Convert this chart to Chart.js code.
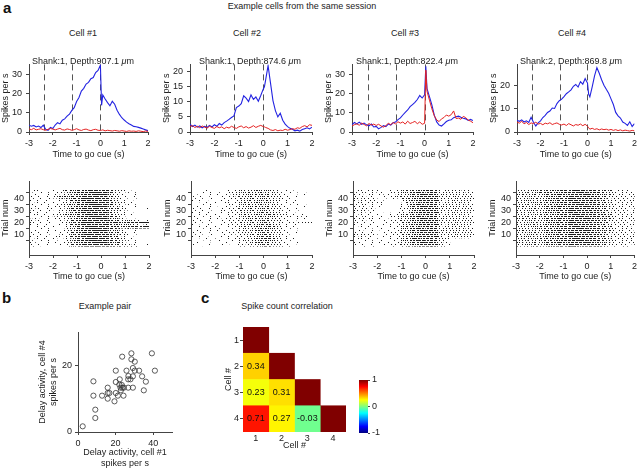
<!DOCTYPE html>
<html>
<head>
<meta charset="utf-8">
<script src="https://cdn.jsdelivr.net/npm/chart.js@4.4.1/dist/chart.umd.min.js"></script>
<style>
  body { margin: 0; background: #fff; }
  #fig { position: relative; width: 640px; height: 470px; overflow: hidden; font-family: "Liberation Sans", Arial, sans-serif; color: #222; }
  #fig canvas { position: absolute; }
  .txt { position: absolute; font-size: 9px; line-height: 11px; white-space: nowrap; transform: translateX(-50%); }
  .lab { position: absolute; font-size: 15px; line-height: 15px; font-weight: bold; color: #111; }
</style>
</head>
<body>
<div id="fig">
  <canvas id="psth1" width="154" height="105" style="left:0;top:55px"></canvas>
  <canvas id="psth2" width="157" height="105" style="left:161px;top:55px"></canvas>
  <canvas id="psth3" width="156" height="105" style="left:323px;top:55px"></canvas>
  <canvas id="psth4" width="152" height="105" style="left:488px;top:55px"></canvas>
  <canvas id="ras1" width="155" height="108" style="left:0;top:174px"></canvas>
  <canvas id="ras2" width="156" height="108" style="left:162px;top:174px"></canvas>
  <canvas id="ras3" width="156" height="108" style="left:324px;top:174px"></canvas>
  <canvas id="ras4" width="153" height="108" style="left:487px;top:174px"></canvas>
  <canvas id="pair" width="143" height="149" style="left:37px;top:320px"></canvas>
  <canvas id="corr" width="138" height="136" style="left:212px;top:315px"></canvas>
  <canvas id="cbar" width="35" height="70" style="left:352px;top:372px"></canvas>

  <div class="lab" style="left:3px;top:0">a</div>
  <div class="txt" style="left:302px;top:1px">Example cells from the same session</div>
  <div class="txt" style="left:83px;top:28px">Cell #1</div>
  <div class="txt" style="left:247px;top:28px">Cell #2</div>
  <div class="txt" style="left:405px;top:28px">Cell #3</div>
  <div class="txt" style="left:572px;top:28px">Cell #4</div>
  <div class="txt" style="left:83px;top:56px">Shank:1, Depth:907.1 <i>μ</i>m</div>
  <div class="txt" style="left:250px;top:56px">Shank:1, Depth:874.6 <i>μ</i>m</div>
  <div class="txt" style="left:407px;top:56px">Shank:1, Depth:822.4 <i>μ</i>m</div>
  <div class="txt" style="left:571px;top:56px">Shank:2, Depth:869.8 <i>μ</i>m</div>
  <div class="lab" style="left:2px;top:290px">b</div>
  <div class="txt" style="left:105px;top:301px">Example pair</div>
  <div class="lab" style="left:201px;top:290px">c</div>
  <div class="txt" style="left:287px;top:301px">Spike count correlation</div>
</div>
<script>
// time grid of the PSTHs (s, relative to go cue)
const times = [-3, -2.9, -2.8, -2.7, -2.6, -2.5, -2.4, -2.3, -2.2, -2.1,
  -2, -1.9, -1.8, -1.7, -1.6, -1.5, -1.4, -1.3, -1.2, -1.1,
  -1, -0.9, -0.8, -0.7, -0.6, -0.5, -0.4, -0.3, -0.2, -0.1,
  0, 0.05, 0.1, 0.2, 0.3, 0.4, 0.5, 0.6, 0.7, 0.8,
  0.9, 1, 1.1, 1.2, 1.3, 1.4, 1.5, 1.6, 1.7, 1.8, 1.9, 2];
const timeTicks = [-3, -2, -1, 0, 1, 2];
const events = [-2.35, -1.18, 0];

// spikes per s, lick-right trials (blue) and lick-left trials (red)
const cell1Blue = [3.5, 3.0, 3.4, 2.6, 3.1, 2.3, 3.5, 1.4, 0.9, 2.4,
  1.8, 3.6, 4.8, 4.2, 6.1, 6.8, 8.2, 9.3, 11.2, 12.6,
  15.8, 17.9, 21.2, 22.6, 24.8, 25.7, 27.6, 28.2, 30.8, 31.9,
  34.6, 13.8, 19.2, 17.1, 15.2, 13.6, 15.9, 14.4, 11.3, 9.1,
  7.4, 6.2, 5.1, 4.3, 3.6, 2.9, 2.7, 2.4, 2.0, 1.6, 1.1, 0.7];
const cell1Red = [1.6, 1.2, 1.9, 1.1, 1.4, 1.7, 1.2, 0.9, 1.4, 1.8,
  1.5, 1.1, 1.5, 1.9, 1.2, 1.0, 1.6, 1.3, 0.9, 1.2,
  1.7, 1.1, 0.8, 1.3, 1.5, 1.0, 0.7, 1.2, 1.4, 0.9,
  0.8, 0.9, 1.1, 0.6, 0.9, 0.7, 0.5, 0.8, 0.6, 0.4,
  0.7, 0.5, 0.3, 0.6, 0.4, 0.5, 0.3, 0.6, 0.4, 0.2, 0.5, 0.3];
const cell2Blue = [2.6, 1.8, 2.3, 1.6, 2.0, 1.4, 1.9, 1.5, 2.2, 1.7,
  2.4, 1.9, 2.8, 2.3, 3.1, 3.6, 4.2, 4.8, 5.3, 8.1,
  8.6, 9.4, 12.0, 11.2, 10.1, 12.3, 10.8, 11.6, 10.2, 12.1,
  14.2, 15.0, 17.3, 22.0, 16.2, 10.4, 7.1, 5.0, 6.2, 3.9,
  2.6, 1.8, 1.2, 0.9, 0.4, 0.6, 0.3, 0.8, 1.1, 1.4, 1.0, 1.6];
const cell2Red = [1.8, 2.1, 1.5, 1.9, 1.4, 2.0, 1.6, 1.3, 1.9, 1.5,
  1.2, 1.8, 1.4, 1.7, 1.1, 1.6, 1.3, 1.9, 1.5, 1.2,
  1.7, 2.0, 1.4, 1.8, 1.3, 1.6, 2.1, 1.5, 1.9, 2.2,
  1.8, 1.7, 1.5, 1.2, 0.7, 0.5, 0.8, 0.4, 0.6, 0.5,
  0.9, 0.6, 0.8, 1.1, 0.9, 1.4, 1.2, 1.8, 2.1, 1.7, 2.4, 2.2];
const cell3Blue = [3.8, 4.9, 4.2, 5.1, 4.0, 4.6, 3.7, 3.2, 4.1, 2.6,
  2.9, 1.6, 2.4, 3.3, 2.8, 4.1, 3.6, 4.8, 5.2, 6.4,
  7.3, 8.8, 10.2, 11.4, 13.1, 14.2, 15.3, 16.8, 18.9, 17.6,
  19.2, 34.0, 22.5, 18.3, 14.1, 8.7, 5.2, 3.6, 3.1, 4.2,
  5.4, 6.1, 6.3, 7.4, 7.9, 8.2, 7.6, 7.1, 6.8, 6.0, 6.5, 5.9];
const cell3Red = [3.1, 3.8, 4.2, 3.5, 4.6, 3.9, 3.2, 4.4, 3.6, 4.1,
  3.4, 4.0, 3.1, 2.5, 3.3, 4.5, 3.8, 4.9, 4.2, 5.3,
  4.6, 5.2, 4.1, 5.6, 4.4, 4.9, 5.5, 4.3, 5.2, 4.0,
  4.5, 32.0, 21.0, 16.5, 12.0, 8.4, 6.2, 5.4, 6.8, 7.5,
  8.8, 8.2, 9.0, 10.9, 7.0, 7.2, 6.6, 8.1, 7.4, 6.2, 5.6, 4.8];
const cell4Blue = [5.0, 4.6, 5.2, 4.3, 4.8, 4.1, 6.3, 4.2, 2.6, 3.9,
  4.8, 6.2, 7.1, 8.4, 9.0, 10.3, 10.1, 12.2, 13.4, 14.1,
  15.2, 16.4, 17.2, 18.1, 19.6, 20.4, 19.3, 21.6, 20.5, 22.9,
  21.0, 16.2, 15.1, 19.4, 24.1, 27.6, 25.2, 22.4, 20.1, 18.3,
  16.6, 14.2, 11.8, 8.4, 6.9, 6.0, 4.3, 3.7, 2.8, 4.4, 2.4, 3.6];
const cell4Red = [4.3, 3.8, 4.6, 3.5, 4.1, 3.2, 3.9, 3.6, 4.2, 3.4,
  3.7, 3.1, 3.8, 3.5, 4.0, 3.2, 3.6, 3.9, 3.3, 3.0,
  3.4, 2.8, 3.6, 3.1, 2.6, 3.2, 2.9, 3.4, 2.7, 3.3,
  2.5, 1.8, 1.2, 1.6, 1.1, 1.4, 0.9, 1.3, 1.0, 1.2,
  0.8, 1.1, 0.7, 1.0, 0.6, 0.9, 0.5, 0.8, 0.6, 0.4, 0.7, 0.5];

// rasters: one string per trial (top trial first), one digit per 0.25 s bin = spike density
const binEdges = [-3, -2.75, -2.5, -2.25, -2, -1.75, -1.5, -1.25, -1, -0.75, -0.5,
  -0.25, 0, 0.25, 0.5, 0.75, 1, 1.25, 1.5, 1.75, 2];
const trialTicks = [10, 20, 30, 40];
const raster1 = [
  "21011246778885321000", "10101236788994210000", "11010134678995221100", "01101125678884220000",
  "10010236789995310100", "11003566788884221100", "01011345789994210000", "10100124678895320000",
  "21011235788884211000", "10101124678995321100", "01010235789884210000", "21101345788995321000",
  "10011234678894320100", "01100124789995310000", "11010135678884210000", "30120246789995431001",
  "11010125678894320000", "01101234678884210000", "10010134789995320000", "21011346788884321100",
  "11103355788894310000", "10010124678995420000", "01101235789884310000", "11010124678895421000",
  "32101235789996532100", "10110124678895544321", "21010134789997778889", "10101125678896654321",
  "01010124678895432100", "10101135789996543211", "11010124678996667778", "01100124678895321000",
  "10010135789995421100", "01101124678894320000", "10010114678995431000", "11011225788895421100",
  "01100114679996431000", "10101114678895320000", "21012236789895421000", "10010124678995431100",
  "01101115789896532100", "11010124678895420000", "20110126789996531100", "10101114678895421000",
  "01010125789996532100", "10100014678996543211"];
const raster2 = [
  "10100112334543210100", "01010123343432101000", "00101012434543211010", "10010113344443210000",
  "01001122433543220100", "10100101343443311000", "00010122344542210010", "11001012433443201000",
  "01010112344443210100", "10001211434543211000", "00110102343442210000", "10010121344553210100",
  "01100012433443201010", "10010112344443210000", "00101122343543211000", "11010101434442210100",
  "01001212343443201000", "10100112434543210010", "01010021334442211000", "11001112343443210100",
  "10110122444554321110", "21011112344554322211", "11010122343443211021", "01101112434443210100",
  "10010211344543211000", "01001012343543210010", "10101112434543212232", "00110122344553210100",
  "10010101234563210000", "01001112344564311000", "00100112234563210100", "10010101234564210000",
  "01001012334663211000", "00010111234653210000", "10100101234564210100", "01001012234664311000",
  "00010101224664210000", "10001011234563210000", "01000112234664211000", "00100101234674311000",
  "10010011224663210000", "00001012234664210000", "01000101223563211000", "00100011234664210100",
  "10010101224564210000", "00100001223454311000"];
const raster3 = [
  "21121112456787223232", "12011123457787232323", "21102112356787223322", "11210012456887322332",
  "22111013346787232232", "12101122456787223232", "21210011457787232323", "23121000356787223322",
  "12210000256887322332", "21120000146787232232", "22112000146787223232", "12210000147787232323",
  "21101000156787223322", "12120000256887322332", "21210001246787232232", "11201000146787223232",
  "23110000137787232323", "12100000146787223322", "21110001256887322332", "12101011346787232232",
  "11210112456787223232", "21101123457787232323", "12110012356787223322", "21211011456887322332",
  "11010112346787232232", "21101012456787223232", "12010101457787232323", "11101012356787223322",
  "21010112456887322332", "10101101346787232232", "01010012456787223232", "11001011457787232323",
  "10100112356787223322", "01010101456887322332", "12101012346787232232", "21110111456787223232",
  "34220112457787232323", "23110101356787223322", "12101012456887322332", "21010112456787320000",
  "11100011357787310000", "10101012456887210000", "01010101457787200000", "21011012356887221000",
  "10100112456787310000", "01010011356787210000"];
const raster4 = [
  "33434567788876542211", "32345667787887532121", "24334567788776542212", "33243567787887432121",
  "32334566788877532212", "23424567787786542121", "33343567788877532211", "24234566787887432122",
  "33324567788776542211", "32433567787887532121", "23334566788877432212", "33243567787786542121",
  "34333567788877532211", "23424566787887432122", "32334567788776542211", "33243567787887532121",
  "24334566788877432212", "33424567787786542121", "32334567788877542211", "23343566787887532122",
  "33234567788876642221", "32433567787887653221", "24334566788877642212", "33243567787786642121",
  "32334567788877542211", "23424566787887532122", "33334567788776542211", "24243567787887432121",
  "33334566788877532212", "32424567787786442121", "23334567788877532211", "33243566787887432122",
  "32334567788776542211", "24433567787887532121", "33324566788877432212", "23243567787786542121",
  "32334567788877532211", "33424566787887432122", "24334567788776542211", "33243567787887532121",
  "32334566788877432212", "23424567787786542121", "33334567788877532211", "32243566787887432122",
  "24334567788776542211", "33343567787887532121"];

// panel b: delay activity of cell #1 (x) vs cell #4 (y), one point per trial
const pairX = [2.5, 9.2, 9.2, 8.2, 8.2, 12.8, 15.8, 15.8, 15.8, 16.7, 19.4, 20.1, 20.1, 20.1,
  21.2, 22.0, 22.2, 22.6, 23.5, 23.6, 24.2, 24.4, 22.8, 23.3, 25.8, 26.7, 26.7, 26.8,
  27.9, 28.4, 28.4, 29.2, 29.2, 29.2, 30.2, 30.2, 32.5, 34.1, 35.0, 36.1, 39.3, 40.9];
const pairY = [1.7, 4.2, 6.7, 10.9, 15.2, 10.9, 13.3, 11.7, 10.0, 11.7, 9.2, 18.4, 15.0, 11.7,
  10.9, 14.2, 15.8, 13.3, 22.6, 13.3, 10.9, 13.3, 12.5, 14.1, 18.4, 13.3, 15.8, 16.8,
  15.8, 23.6, 21.8, 13.3, 19.2, 16.7, 21.1, 18.4, 18.4, 16.7, 12.5, 15.1, 23.6, 18.4];

// panel c: spike count correlation (lower triangle)
const cellLabels = ['1', '2', '3', '4'];
const corr = [
  [1],
  [0.34, 1],
  [0.23, 0.31, 1],
  [0.71, 0.27, -0.03, 1]];

const BLUE = 'rgb(35,35,225)';
const RED = 'rgb(228,35,35)';
const AXIS = '#444';

Chart.defaults.font.family = "'Liberation Sans', Arial, sans-serif";
Chart.defaults.font.size = 9;
Chart.defaults.color = '#222';

function jet(v) {
  const t = (v + 1) / 2;
  const f = o => Math.round(255 * Math.max(0, Math.min(1, 1.5 - Math.abs(4 * t - o))));
  return 'rgb(' + f(3) + ',' + f(2) + ',' + f(1) + ')';
}

// dotted fill texture for raster bins: a pixel is inked when its rank is below
// the density level; only every other texture row is inked so each trial reads as one dotted line
const dotRank = [17, 3, 25, 9, 0, 21, 12, 28, 6, 15, 23, 1, 19, 10, 26, 4, 14, 7, 27, 20, 2, 11, 24, 16, 5, 22, 13, 8, 18];
const rowShift = [0, 11, 3, 17, 25, 8, 21, 5, 14, 27, 2, 19];
function dotPattern(d) {
  const w = dotRank.length;
  const c = document.createElement('canvas');
  c.width = w; c.height = rowShift.length;
  const g = c.getContext('2d');
  g.fillStyle = '#1e1e1e';
  const on = Math.round(d * 0.1 * w);
  rowShift.forEach((s, r) => {
    if (r % 2) return;
    for (let i = 0; i < w; i++) if (dotRank[(i + s) % w] < on) g.fillRect(i, r, 1, 1);
  });
  return g.createPattern(c, 'repeat');
}
const patterns = [0, 1, 2, 3, 4, 5, 6, 7, 8, 9].map(dotPattern);

function setTicks(list) {
  return s => { s.ticks = list.map(v => ({ value: v })); };
}

function axis(opts) {
  return Object.assign({
    grid: { drawOnChartArea: false, tickLength: 3, color: AXIS },
    border: { color: AXIS },
    ticks: { padding: 3, maxRotation: 0, autoSkip: false }
  }, opts);
}

const baseOpts = {
  responsive: false, animation: false, devicePixelRatio: 1,
  plugins: { legend: { display: false }, tooltip: { enabled: false } }
};

const eventLines = {
  id: 'eventLines',
  beforeDatasetsDraw(chart) {
    const { ctx, chartArea: a, scales: { x } } = chart;
    ctx.save();
    ctx.strokeStyle = '#555';
    ctx.lineWidth = 1;
    ctx.setLineDash([6, 4]);
    events.forEach(t => {
      const px = Math.round(x.getPixelForValue(t)) + 0.5;
      ctx.beginPath();
      ctx.moveTo(px, a.top);
      ctx.lineTo(px, a.bottom);
      ctx.stroke();
    });
    ctx.restore();
  }
};

function psth(id, blue, red, yMax, yTicks, padRight) {
  new Chart(document.getElementById(id), {
    type: 'line',
    data: {
      datasets: [
        { data: times.map((t, i) => ({ x: t, y: red[i] })), borderColor: RED, borderWidth: 1, pointRadius: 0 },
        { data: times.map((t, i) => ({ x: t, y: blue[i] })), borderColor: BLUE, borderWidth: 1.1, pointRadius: 0 }
      ]
    },
    options: Object.assign({}, baseOpts, {
      layout: { padding: { top: 5, right: padRight } },
      scales: {
        x: axis({ type: 'linear', min: -3, max: 2, afterBuildTicks: setTicks(timeTicks),
          afterFit: s => { s.height = 28; },
          title: { display: true, text: 'Time to go cue (s)', padding: 0 } }),
        y: axis({ min: 0, max: yMax, afterBuildTicks: setTicks(yTicks),
          afterFit: s => { s.width = 29; },
          ticks: { padding: 4 },
          title: { display: true, text: 'Spikes per s', padding: 0 } })
      }
    }),
    plugins: [eventLines]
  });
}

function raster(id, rows, padRight) {
  const sets = [];
  for (let d = 1; d <= 9; d++) {
    const pts = [];
    rows.forEach((row, k) => {
      const trial = rows.length - k;
      for (let j = 0; j < row.length && j < binEdges.length - 1; j++) {
        if (+row[j] === d) pts.push({ y: trial, x: [binEdges[j], binEdges[j + 1]] });
      }
    });
    sets.push({ data: pts, barThickness: 2, grouped: false, borderWidth: 0, backgroundColor: patterns[d] });
  }
  new Chart(document.getElementById(id), {
    type: 'bar',
    data: { datasets: sets },
    options: Object.assign({}, baseOpts, {
      indexAxis: 'y',
      layout: { padding: { top: 5, right: padRight } },
      scales: {
        x: axis({ type: 'linear', min: -3, max: 2, afterBuildTicks: setTicks(timeTicks),
          afterFit: s => { s.height = 27; },
          title: { display: true, text: 'Time to go cue (s)', padding: 0 } }),
        y: axis({ type: 'linear', min: 0.5, max: 46.5, afterBuildTicks: setTicks(trialTicks),
          afterFit: s => { s.width = 29; },
          ticks: { padding: 2 },
          title: { display: true, text: 'Trial num', padding: 0 } })
      }
    })
  });
}

psth('psth1', cell1Blue, cell1Red, 35, [0, 10, 20, 30], 6);
psth('psth2', cell2Blue, cell2Red, 22.4, [0, 5, 10, 15, 20], 6);
psth('psth3', cell3Blue, cell3Red, 35, [0, 10, 20, 30], 6);
psth('psth4', cell4Blue, cell4Red, 29, [0, 5, 10, 15, 20, 25], 3);

raster('ras1', raster1, 6);
raster('ras2', raster2, 6);
raster('ras3', raster3, 6);
raster('ras4', raster4, 3);

// panel b
new Chart(document.getElementById('pair'), {
  type: 'scatter',
  data: {
    datasets: [{
      data: pairX.map((x, i) => ({ x: x, y: pairY[i] })),
      pointRadius: 2.6, pointBorderWidth: 0.8, borderColor: '#333', backgroundColor: 'rgba(0,0,0,0)'
    }]
  },
  options: Object.assign({}, baseOpts, {
    layout: { padding: { top: 12, right: 8 } },
    scales: {
      x: axis({ type: 'linear', min: 0, max: 50, afterBuildTicks: setTicks([0, 20, 40]),
        afterFit: s => { s.height = 37; },
        title: { display: true, text: ['Delay activity, cell #1', 'spikes per s'], padding: 0 } }),
      y: axis({ min: 0, max: 30, afterBuildTicks: setTicks([0, 20]),
        afterFit: s => { s.width = 41; },
        title: { display: true, text: ['Delay activity, cell #4', 'spikes per s'], padding: 0 } })
    }
  })
});

// panel c
const cellText = {
  id: 'cellText',
  afterDatasetsDraw(chart) {
    const { ctx, scales: { x, y } } = chart;
    ctx.save();
    ctx.font = "9px 'Liberation Sans', Arial, sans-serif";
    ctx.fillStyle = '#111';
    ctx.textAlign = 'center';
    ctx.textBaseline = 'middle';
    corr.forEach((row, r) => row.forEach((v, c) => {
      if (c !== r) ctx.fillText(v.toFixed(2), x.getPixelForValue(c), y.getPixelForValue(r + 1));
    }));
    ctx.restore();
  }
};

new Chart(document.getElementById('corr'), {
  type: 'bar',
  data: {
    labels: cellLabels,
    datasets: cellLabels.map((lab, c) => ({
      data: corr.slice(c).map((row, k) => ({ x: lab, y: [c + k + 0.5, c + k + 1.5] })),
      backgroundColor: corr.slice(c).map(row => jet(row[c])),
      barPercentage: 1, categoryPercentage: 1, grouped: false, borderWidth: 0
    }))
  },
  options: Object.assign({}, baseOpts, {
    layout: { padding: { top: 12, left: 11, right: 4 } },
    scales: {
      x: { grid: { display: false, drawTicks: false, tickLength: 0 }, border: { display: false }, ticks: { padding: 1 },
        afterFit: s => { s.height = 19; },
        title: { display: true, text: 'Cell #', padding: 0 } },
      y: axis({ type: 'linear', reverse: true, min: 0.5, max: 4.5, afterBuildTicks: setTicks([1, 2, 3, 4]),
        border: { display: false },
        grid: { drawOnChartArea: false, tickLength: 3, color: AXIS },
        ticks: { padding: 1 },
        afterFit: s => { s.width = 20; },
        title: { display: true, text: 'Cell #', padding: 0 } })
    }
  }),
  plugins: [cellText]
});

// colour bar
new Chart(document.getElementById('cbar'), {
  type: 'bar',
  data: {
    labels: [''],
    datasets: [{
      data: [[-1, 1]],
      barPercentage: 1, categoryPercentage: 1, borderWidth: 0,
      backgroundColor: ctx => {
        const ch = ctx.chart;
        if (!ch.chartArea) return '#888';
        const y = ch.scales.y;
        const g = ch.ctx.createLinearGradient(0, y.getPixelForValue(-1), 0, y.getPixelForValue(1));
        for (let i = 0; i <= 32; i++) g.addColorStop(i / 32, jet(-1 + i / 16));
        return g;
      }
    }]
  },
  options: Object.assign({}, baseOpts, {
    layout: { padding: { top: 8, left: 7, bottom: 9 } },
    scales: {
      x: { display: false },
      y: { position: 'right', min: -1, max: 1, afterBuildTicks: setTicks([-1, 0, 1]),
        grid: { drawOnChartArea: false, tickLength: 2, color: AXIS },
        border: { display: false },
        ticks: { padding: 2 },
        afterFit: s => { s.width = 19; } }
    }
  })
});
</script>
</body>
</html>
